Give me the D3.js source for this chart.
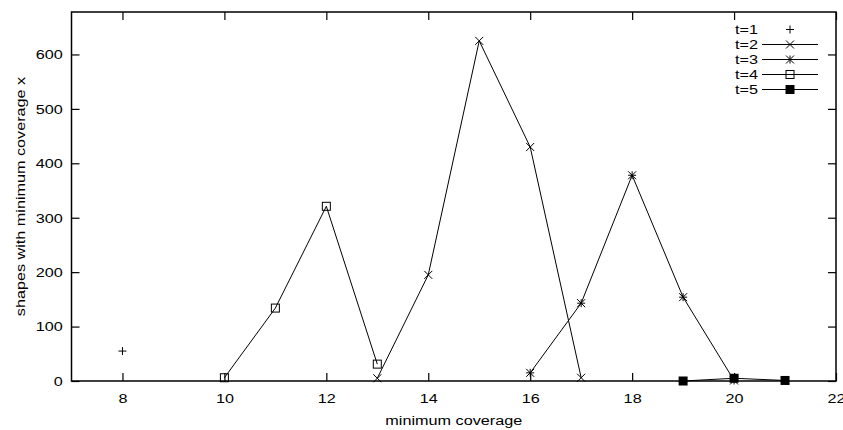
<!DOCTYPE html>
<html>
<head>
<meta charset="utf-8">
<script src="https://cdn.jsdelivr.net/npm/d3@7"></script>
<style>
  body { margin: 0; background: #fff; }
  svg { display: block; }
  text { font-family: "Liberation Sans", Arial, sans-serif; font-size: 13.5px; fill: #000; }
</style>
</head>
<body>
<div id="vis"></div>
<script>
/**
 * DATA
 * */
const labels = ["t=1", "t=2", "t=3", "t=4", "t=5"];
const t1_x = [8];
const t1_y = [55];
const t2_x = [13, 14, 15, 16, 17];
const t2_y = [5, 195, 625, 430, 6];
const t3_x = [16, 17, 18, 19, 20];
const t3_y = [15, 143, 378, 154, 1];
const t4_x = [10, 11, 12, 13];
const t4_y = [6, 134, 321, 31];
const t5_x = [19, 20, 21];
const t5_y = [0, 5, 1];
const xTicks = [8, 10, 12, 14, 16, 18, 20, 22];
const yTicks = [0, 100, 200, 300, 400, 500, 600];

/**
 * CONSTANTS AND GLOBALS
 * */
const width = 843;
const height = 430;
const margin = { top: 12, bottom: 49, left: 71.5, right: 7 };
const stretch = 1.2; // gnuplot font is wider than liberation

let svg = d3.select("#vis")
  .append("svg")
  .attr("width", width)
  .attr("height", height);

let x_scale = d3.scaleLinear()
  .domain([7, 22])
  .range([margin.left, width - margin.right]);

let y_scale = d3.scaleLinear()
  .domain([0, 678])
  .range([height - margin.bottom, margin.top]);

// series: points + line flag + marker type
let series = [
  { label: labels[0], xs: t1_x, ys: t1_y, line: false, mark: "plus" },
  { label: labels[1], xs: t2_x, ys: t2_y, line: true, mark: "cross" },
  { label: labels[2], xs: t3_x, ys: t3_y, line: true, mark: "star" },
  { label: labels[3], xs: t4_x, ys: t4_y, line: true, mark: "box" },
  { label: labels[4], xs: t5_x, ys: t5_y, line: true, mark: "fbox" },
];
series.forEach(s => s.points = s.xs.map((x, i) => [x, s.ys[i]]));

// widen every text horizontally
function widen(sel, rot) {
  sel.each(function() {
    let t = d3.select(this);
    let x = +t.attr("x") || 0;
    let y = +t.attr("y") || 0;
    t.attr("x", 0).attr("y", 0)
      .attr("transform", `translate(${x},${y})` + (rot ? ` rotate(${rot})` : "") + ` scale(${stretch},1)`);
  });
}

function drawMark(g, type, cx, cy) {
  if (type === "plus" || type === "star") {
    g.append("path").attr("d", `M${cx-4},${cy}H${cx+4}M${cx},${cy-4}V${cy+4}`)
      .attr("stroke", "#000").attr("stroke-width", 1).attr("fill", "none");
  }
  if (type === "cross" || type === "star") {
    g.append("path").attr("d", `M${cx-4},${cy-4}L${cx+4},${cy+4}M${cx-4},${cy+4}L${cx+4},${cy-4}`)
      .attr("stroke", "#000").attr("stroke-width", 1).attr("fill", "none");
  }
  if (type === "box") {
    g.append("rect").attr("x", cx - 4).attr("y", cy - 4).attr("width", 8).attr("height", 8)
      .attr("stroke", "#000").attr("stroke-width", 1).attr("fill", "none");
  }
  if (type === "fbox") {
    g.append("rect").attr("x", cx - 4.5).attr("y", cy - 4.5).attr("width", 9).attr("height", 9)
      .attr("fill", "#000");
  }
}

///////// AXES ////////////
let xAxis = d3.axisBottom(x_scale)
  .tickValues(xTicks)
  .tickSizeInner(-8)
  .tickSizeOuter(0)
  .tickPadding(12.4);

let yAxis = d3.axisLeft(y_scale)
  .tickValues(yTicks)
  .tickSizeInner(-8)
  .tickSizeOuter(0)
  .tickPadding(8.8);

let gx = svg.append("g")
  .attr("transform", `translate(0, ${height - margin.bottom})`)
  .call(xAxis);
let gy = svg.append("g")
  .attr("transform", `translate(${margin.left}, 0)`)
  .call(yAxis);

// mirror ticks on top and right
svg.append("g")
  .attr("transform", `translate(0, ${margin.top})`)
  .call(d3.axisTop(x_scale).tickValues(xTicks).tickSizeInner(-8).tickSizeOuter(0).tickFormat(""));
svg.append("g")
  .attr("transform", `translate(${width - margin.right}, 0)`)
  .call(d3.axisRight(y_scale).tickValues(yTicks).tickSizeInner(-8).tickSizeOuter(0).tickFormat(""));

svg.selectAll(".domain").remove();
svg.selectAll(".tick line").attr("stroke", "#000").attr("stroke-width", 1.2);
svg.selectAll(".tick text")
  .attr("font-family", null)
  .attr("font-size", null)
  .attr("fill", "#000");
widen(gx.selectAll(".tick text"));
widen(gy.selectAll(".tick text"));

svg.append("rect")
  .attr("x", margin.left)
  .attr("y", margin.top)
  .attr("width", x_scale(22) - x_scale(7))
  .attr("height", y_scale(0) - y_scale(678))
  .attr("fill", "none")
  .attr("stroke", "#000")
  .attr("stroke-width", 1.5);

// axis titles
svg.append("text")
  .attr("x", (x_scale(7) + x_scale(22)) / 2)
  .attr("y", 425)
  .style("text-anchor", "middle")
  .text("minimum coverage")
  .call(widen);

svg.append("text")
  .attr("x", 25)
  .attr("y", (y_scale(0) + y_scale(678)) / 2)
  .style("text-anchor", "middle")
  .text("shapes with minimum coverage x")
  .call(widen, -90);

///////// SERIES ////////////
let line = d3.line()
  .x(d => x_scale(d[0]))
  .y(d => y_scale(d[1]));

series.forEach(s => {
  let g = svg.append("g");
  if (s.line) {
    g.append("path")
      .datum(s.points)
      .attr("d", line)
      .attr("fill", "none")
      .attr("stroke", "#000")
      .attr("stroke-width", 1);
  }
  s.points.forEach(p => drawMark(g, s.mark, x_scale(p[0]), y_scale(p[1])));
});

///////// LEGEND ////////////
let legend = svg.append("g");
series.forEach((s, i) => {
  let ly = 29.5 + i * 15;
  legend.append("text")
    .attr("x", 758)
    .attr("y", ly)
    .attr("dy", "0.35em")
    .style("text-anchor", "end")
    .text(s.label)
    .call(widen);
  if (s.line) {
    legend.append("line")
      .attr("x1", 762).attr("x2", 818)
      .attr("y1", ly).attr("y2", ly)
      .attr("stroke", "#000")
      .attr("stroke-width", 1);
  }
  drawMark(legend, s.mark, 790, ly);
});
</script>
</body>
</html>
